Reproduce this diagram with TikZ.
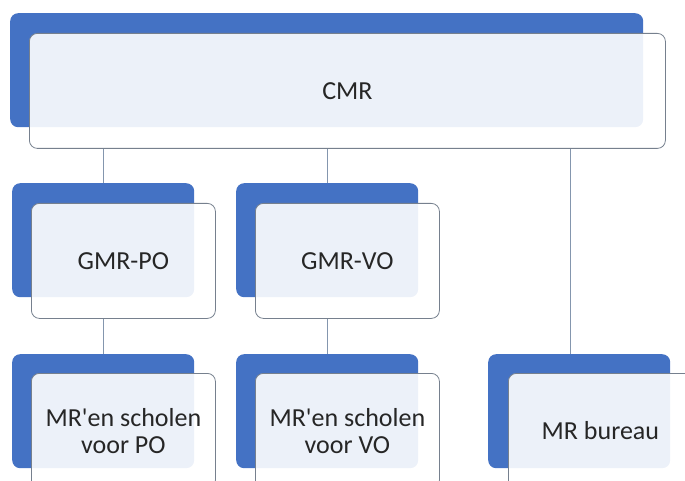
\documentclass[tikz,border=0pt]{standalone}
\usepackage{fontspec}
\setmainfont{Carlito}
\definecolor{boxblue}{HTML}{4472C4}
\definecolor{boxedge}{HTML}{76808E}
\definecolor{linegray}{HTML}{8496AE}
\definecolor{txt}{HTML}{262626}
\begin{document}
\begin{tikzpicture}[x=1pt, y=-1pt,
  back node/.style={fill=boxblue, rounded corners=8pt, anchor=north west, minimum width=182pt, minimum height=114pt, inner sep=0pt},
  main node/.style={draw=boxedge, line width=0.8pt, fill=white, fill opacity=0.9, text opacity=1, rounded corners=8pt, anchor=north west, minimum width=184pt, minimum height=115pt, inner sep=0pt, align=center, text=txt}]
        \tikzstyle{every node}=[font=\fontsize{26}{27}\selectfont]
        \useasboundingbox (0,0) rectangle (685,481);

          % connectors first, the boxes go on top
          \coordinate (cmrfoot) at (0,148);
          \coordinate (burtop) at (570,354);
          \coordinate (gpotop) at (103,183);
          \coordinate (gvotop) at (327,183);
          \coordinate (spotop) at (103,354);
          \coordinate (svotop) at (327,354);

          \draw[linegray, line width=0.8pt] (cmrfoot -| gpotop) -- (gpotop)
                                             (cmrfoot -| gvotop) -- (gvotop)
                                             (cmrfoot -| burtop) -- (burtop)
                                             (0,318 -| spotop) -- (spotop)
                                             (0,318 -| svotop) -- (svotop);

          \node[back node, minimum width=633pt] (cmrb) at (10,13) {};
          \node[main node, minimum width=636pt] (cmr) at (29,33) {CMR};

          \node[back node] (gpob) at (12,183) {};
          \node[main node] (gpo) at (31,203) {GMR-PO};
          \node[back node] (gvob) at (236,183) {};
          \node[main node] (gvo) at (255,203) {GMR-VO};

          \node[back node] (spob) at (12,354) {};
          \node[main node] (spo) at (31,373) {MR\textquotesingle en scholen\\voor PO};
          \node[back node] (svob) at (236,354) {};
          \node[main node] (svo) at (255,373) {MR\textquotesingle en scholen\\voor VO};
          \node[back node] (burb) at (488,354) {};
          \node[main node] (bur) at (508,373) {MR bureau};

        \end{tikzpicture}
\end{document}
